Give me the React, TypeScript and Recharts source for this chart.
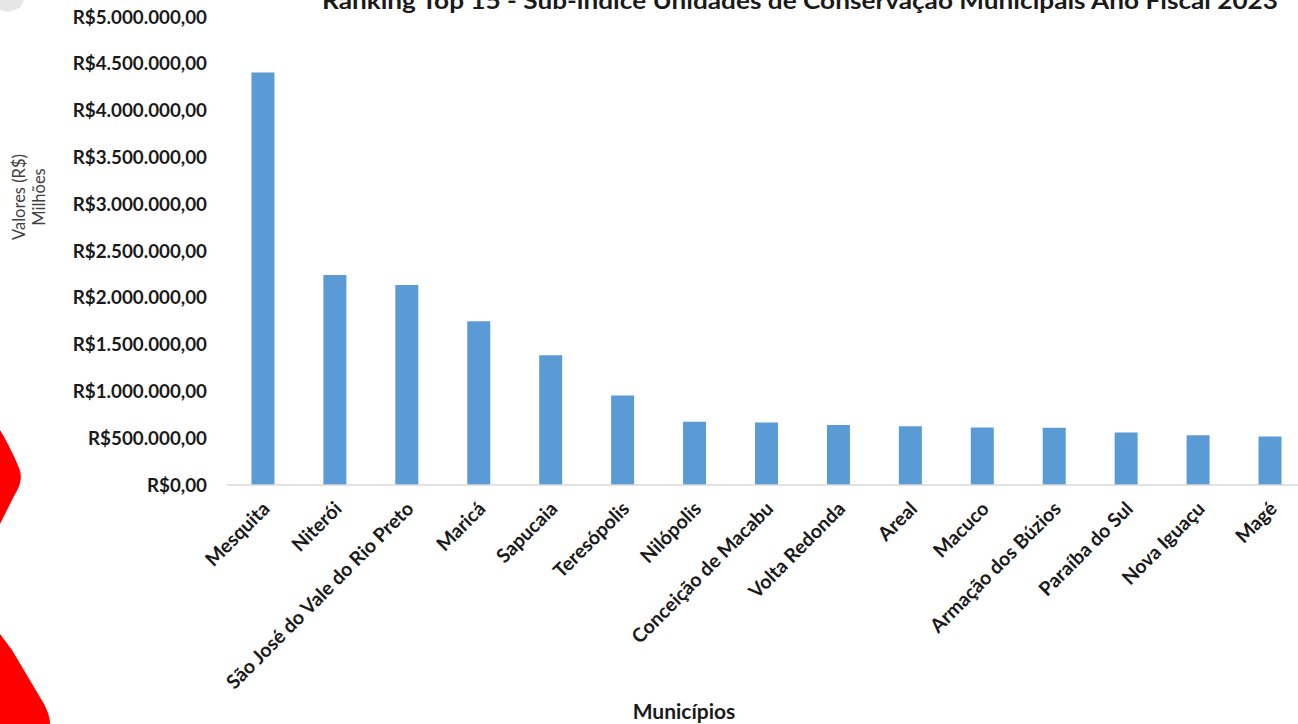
import React from 'react'
import { BarChart, Bar, XAxis, YAxis, Tooltip } from 'recharts'

const municipios = [
  'Mesquita',
  'Niterói',
  'São José do Vale do Rio Preto',
  'Maricá',
  'Sapucaia',
  'Teresópolis',
  'Nilópolis',
  'Conceição de Macabu',
  'Volta Redonda',
  'Areal',
  'Macuco',
  'Armação dos Búzios',
  'Paraíba do Sul',
  'Nova Iguaçu',
  'Magé'
]

const valores = [
  4406000, 2244000, 2137000, 1749000, 1386000, 955000, 677000, 667000,
  641000, 627000, 613000, 612000, 560000, 531000, 517000
]

const yTicks = [0, 500000, 1000000, 1500000, 2000000, 2500000, 3000000, 3500000, 4000000, 4500000, 5000000]

const titulo = 'Ranking Top 15 - Sub-índice Unidades de Conservação Municipais Ano Fiscal 2023'

const data = municipios.map((nome, i) => ({ nome, valor: valores[i] }))

const FONT = 'Lato, "Open Sans", sans-serif'

// R$ no formato brasileiro: R$5.000.000,00
function brl(v: number) {
  const inteiro = Math.round(v).toString().replace(/\B(?=(\d{3})+(?!\d))/g, '.')
  return `R$${inteiro},00`
}

function XTick({ x, y, payload }: any) {
  const ax = x + 8
  const ay = y + 17
  return (
    <text
      x={ax}
      y={ay}
      transform={`rotate(-45 ${ax} ${ay})`}
      textAnchor="end"
      fontFamily={FONT}
      fontWeight={700}
      fontSize={19.5}
      fill="#1a1a1a"
    >
      {payload.value}
    </text>
  )
}

export default function App() {
  return (
    <div style={{ position: 'fixed', left: 0, top: 0, width: 1298, height: 724, overflow: 'hidden', background: '#fff' }}>
      <svg width={1298} height={724} style={{ position: 'absolute', left: 0, top: 0 }}>
        {/* restos da captura de tela na borda esquerda */}
        <path d="M0 0 L24 0 L20 8 L8 12 L0 10 Z" fill="#e6e6e6" />
        <path d="M0 430 C6 440 14 455 19 468 C23 478 20 486 14 496 L0 524 Z" fill="#ff0000" />
        <path d="M0 634 L12 650 L44 704 C48 712 50 718 50 724 L0 724 Z" fill="#ff0000" />
      </svg>

      <div style={{ position: 'absolute', left: 0, top: 0 }}>
        <BarChart
          width={1306}
          height={724}
          data={data}
          margin={{ top: 17, right: 0, bottom: 0, left: 0 }}
          barCategoryGap="34%"
        >
          <XAxis
            dataKey="nome"
            interval={0}
            height={239}
            tickLine={false}
            axisLine={{ stroke: '#d9d9d9', strokeWidth: 1.5 }}
            tick={<XTick />}
          />
          <YAxis
            width={227}
            domain={[0, 5000000]}
            ticks={yTicks}
            axisLine={false}
            tickLine={false}
            tickMargin={14}
            tickFormatter={brl}
            tick={{ fontFamily: FONT, fontWeight: 700, fontSize: 18.8, fill: '#1a1a1a' }}
          />
          <Tooltip formatter={(v: any) => brl(Number(v))} />
          <Bar dataKey="valor" name="Valor" fill="#5b9bd5" isAnimationActive={false} />
        </BarChart>
      </div>

      <svg width={1298} height={724} style={{ position: 'absolute', left: 0, top: 0, pointerEvents: 'none' }}>
        <text x={800} y={9} textAnchor="middle" fontFamily={FONT} fontWeight={700} fontSize={22} fill="#1a1a1a" textLength={956} lengthAdjust="spacingAndGlyphs">
          {titulo}
        </text>
        <text transform="translate(25 197) rotate(-90)" textAnchor="middle" fontFamily={FONT} fontSize={16.5} fill="#404040">
          Valores (R$)
        </text>
        <text transform="translate(45 197) rotate(-90)" textAnchor="middle" fontFamily={FONT} fontSize={16.5} fill="#404040">
          Milhões
        </text>
        <text x={684} y={719} textAnchor="middle" fontFamily={FONT} fontWeight={700} fontSize={21} fill="#1a1a1a">
          Municípios
        </text>
      </svg>
    </div>
  )
}
